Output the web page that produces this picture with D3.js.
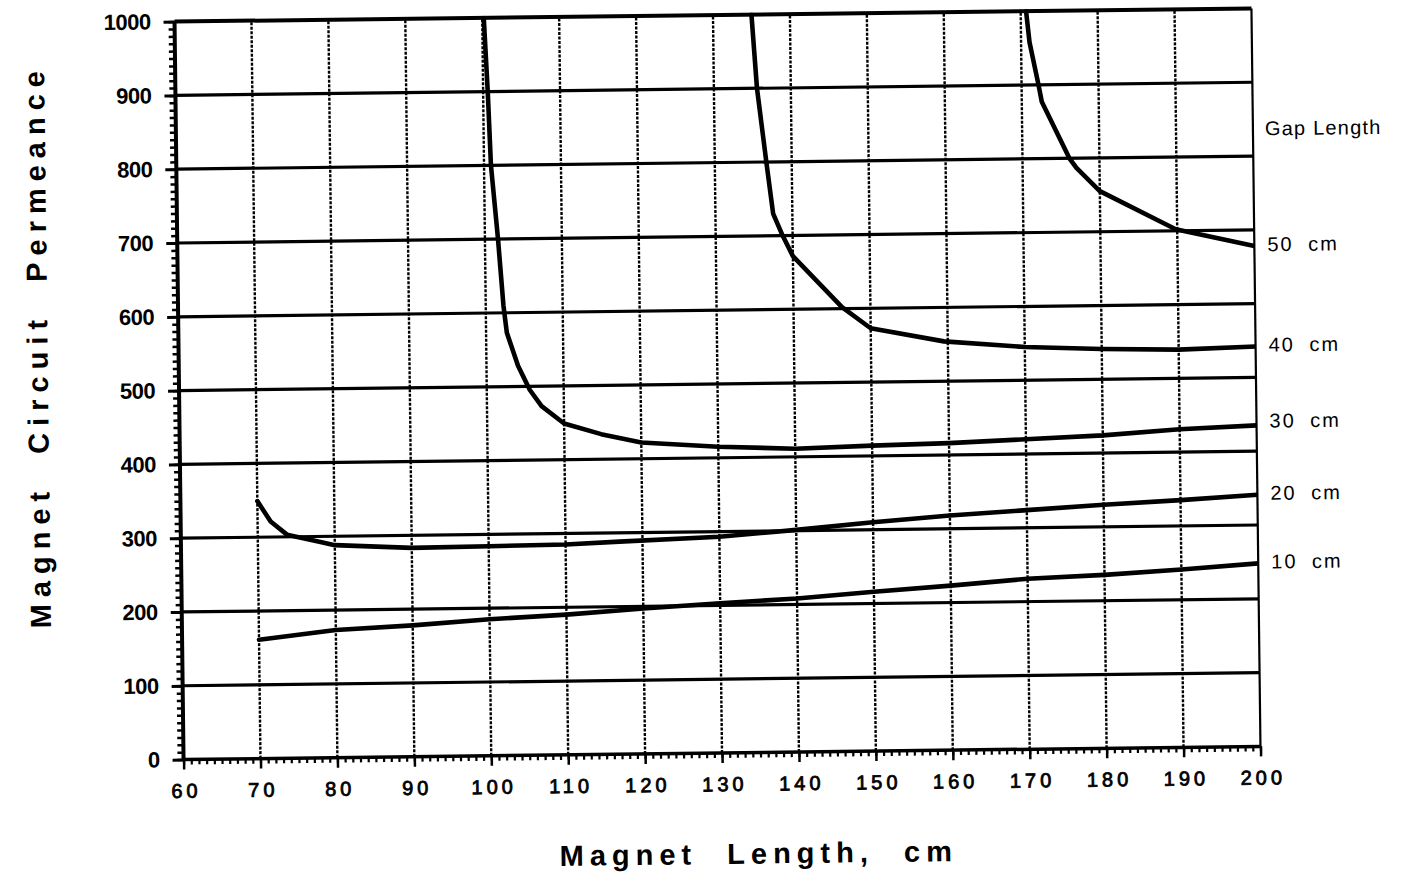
<!DOCTYPE html>
<html><head><meta charset="utf-8">
<script src="https://cdn.jsdelivr.net/npm/d3@7"></script>
<style>
html,body{margin:0;padding:0;background:#fff;}
svg{display:block;}
text{font-family:"Liberation Sans",Arial,Helvetica,sans-serif;fill:#000;}
</style></head>
<body>
<svg id="chart" width="1414" height="879"></svg>
<script>
// ---- data ----
const xTickValues = [60,70,80,90,100,110,120,130,140,150,160,170,180,190,200];
const yTickValues = [0,100,200,300,400,500,600,700,800,900,1000];
const gapLabels = ["10 cm","20 cm","30 cm","40 cm","50 cm"];
const gap10 = [[70,161],[80,173],[90,178],[100,185],[110,190],[120,197],[130,203],[140,208],[150,216],[160,223],[170,231],[180,235],[190,241],[200,248]];
const gap20 = [[70,349],[71.7,321],[73.8,303],[78,293],[80,288],[90,283],[100,284],[110,285],[117,288],[130,293],[140,301],[150,310],[160,318],[170,324],[180,330],[190,335],[200,341]];
const gap30 = [[100.2,1000],[100.6,900],[100.9,800],[101.7,700],[102.3,610],[102.7,573],[104.1,528],[105.6,495],[107.1,473],[110,449],[114.8,434],[120,422],[130,415],[140,411],[150,414],[160,416],[170,420],[180,424],[190,431],[200,435]];
const gap40 = [[135,1000],[135.6,900],[136.7,800],[137.5,730],[138.7,700],[140,672],[146.3,602],[150,573],[159.5,554],[170,545],[180,541],[190,539],[200,542]];
const gap50 = [[170.7,1000],[171.1,958],[172.2,900],[172.6,877],[176.1,800],[177,787],[180,755],[189.8,702],[200,678]];
const series = [gap10, gap20, gap30, gap40, gap50];

// ---- layout ----
const L = 179, R = 1256, T = 15, B = 753;
const svg = d3.select("#chart");
const root = svg.append("g").attr("transform", "rotate(-0.7, 717.5, 384)");

const x = d3.scaleLinear().domain([60,200]).range([L,R]);
const y = d3.scaleLinear().domain([0,1000]).range([B,T]);

// vertical grid (dotted)
root.append("g").selectAll("line")
  .data(xTickValues.filter(d => d > 60 && d < 200))
  .join("line")
  .attr("x1", d => x(d)).attr("x2", d => x(d))
  .attr("y1", y(0)).attr("y2", y(1000))
  .attr("stroke", "#000").attr("stroke-width", 2.4)
  .attr("stroke-dasharray", "3,1.5");

// horizontal grid (solid)
root.append("g").selectAll("line")
  .data(yTickValues.filter(d => d > 0))
  .join("line")
  .attr("x1", x(60)).attr("x2", x(200))
  .attr("y1", d => y(d)).attr("y2", d => y(d))
  .attr("stroke", "#000").attr("stroke-width", d => d === 1000 ? 4 : 3.2);

// right border
root.append("line")
  .attr("x1", x(200)).attr("x2", x(200)).attr("y1", y(0)).attr("y2", y(1000))
  .attr("stroke", "#000").attr("stroke-width", 2.2);

// x axis with minor ticks
const xMinor = d3.range(60, 201, 1);
const xAxisMinor = d3.axisBottom(x).tickValues(xMinor).tickSize(5).tickFormat("");
const gxm = root.append("g").attr("transform", `translate(0,${B})`).call(xAxisMinor);
gxm.select(".domain").remove();
gxm.selectAll("line").attr("stroke-width", 2.2);
const xAxis = d3.axisBottom(x).tickValues(xTickValues).tickSize(10).tickPadding(14).tickFormat(d3.format("d"));
const gx = root.append("g").attr("transform", `translate(0,${B})`).call(xAxis);
gx.select(".domain").attr("stroke-width", 3.5).attr("d", `M${L},0H${R}`);
gx.selectAll("line").attr("stroke-width", 2.5);
gx.selectAll("text")
  .attr("font-size", 20).attr("letter-spacing", "4px")
  .attr("font-family", "Liberation Sans, Arial, sans-serif")
  .attr("stroke", "#000").attr("stroke-width", 0.8)
  .attr("dx", "2px");

// y axis with minor ticks
const yMinor = d3.range(0, 1001, 10);
const yAxisMinor = d3.axisLeft(y).tickValues(yMinor).tickSize(6).tickFormat("");
const gym = root.append("g").attr("transform", `translate(${L},0)`).call(yAxisMinor);
gym.select(".domain").remove();
gym.selectAll("line").attr("stroke-width", 2.5);
const yAxis = d3.axisLeft(y).tickValues(yTickValues).tickSize(11).tickPadding(13).tickFormat(d3.format("d"));
const gy = root.append("g").attr("transform", `translate(${L},0)`).call(yAxis);
gy.select(".domain").attr("stroke-width", 4).attr("d", `M0,${B}V${T}`);
gy.selectAll("line").attr("stroke-width", 3);
gy.selectAll("text")
  .attr("font-size", 22).attr("font-weight", "bold")
  .attr("font-family", "Liberation Sans, Arial, sans-serif")
  .attr("letter-spacing", "-0.5px");

// curves
root.append("defs").append("clipPath").attr("id", "plotclip")
  .append("rect").attr("x", L).attr("y", T - 2).attr("width", R - L).attr("height", B - T + 2);
const line = d3.line().x(d => x(d[0])).y(d => y(d[1])).curve(d3.curveLinear);
root.append("g").attr("clip-path", "url(#plotclip)")
  .selectAll("path").data(series).join("path")
  .attr("d", line)
  .attr("fill", "none").attr("stroke", "#000")
  .attr("stroke-width", 4.6).attr("stroke-linejoin", "round").attr("stroke-linecap", "round");

// right labels
root.append("text").attr("x", R + 12).attr("y", y(835))
  .attr("dominant-baseline", "middle").attr("font-size", 20).attr("letter-spacing", "1.2px")
  .text("Gap Length");
const labelOffsets = [0, 0, 4, 0, 0];
root.append("g").selectAll("text").data(series).join("text")
  .attr("x", R + 13)
  .attr("y", (d, i) => y(d[d.length - 1][1] + labelOffsets[i]))
  .attr("dominant-baseline", "middle")
  .attr("font-size", 20).attr("letter-spacing", "2px").attr("word-spacing", "7px")
  .text((d, i) => gapLabels[i]);

// axis titles
root.append("text")
  .attr("x", 753).attr("y", 864)
  .attr("text-anchor", "middle")
  .attr("font-family", "DejaVu Sans, sans-serif")
  .attr("font-size", 29).attr("font-weight", "bold")
  .attr("letter-spacing", "6px").attr("word-spacing", "16px")
  .text("Magnet Length, cm");

root.append("text")
  .attr("transform", "translate(48,338) rotate(-90)")
  .attr("text-anchor", "middle")
  .attr("font-family", "DejaVu Sans, sans-serif")
  .attr("font-size", 29).attr("font-weight", "bold")
  .attr("letter-spacing", "7px").attr("word-spacing", "16px")
  .text("Magnet Circuit Permeance");
</script>
</body></html>
